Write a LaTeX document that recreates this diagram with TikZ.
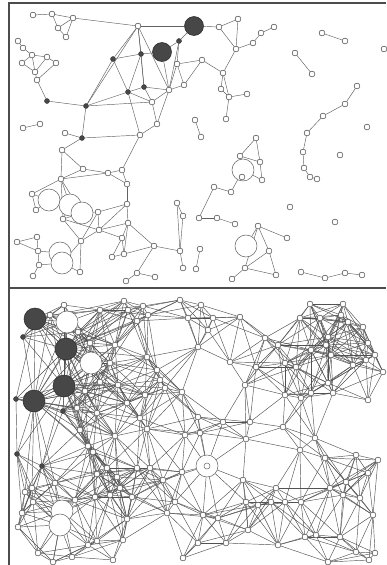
\documentclass[tikz,border=0pt]{standalone}
\usetikzlibrary{backgrounds}
\begin{document}
\begin{tikzpicture}[x=1pt,y=-1pt,
  edge/.style={draw=black!62,line width=0.45pt},
  bedge/.style={draw=black!68,line width=0.45pt},
  to/.style={circle,draw=black!70,fill=white,line width=0.55pt,inner sep=0pt,minimum size=5.8pt},
  tk/.style={circle,draw=black!80,fill=black!72,line width=0.4pt,inner sep=0pt,minimum size=5pt},
  tD/.style={circle,draw=black!85,fill=black!72,line width=0.5pt,inner sep=0pt,minimum size=19pt},
  tW/.style={circle,draw=black!60,fill=white,line width=0.55pt,inner sep=0pt,minimum size=22pt},
  bo/.style={to},
  bk/.style={tk},
  bd/.style={tD,minimum size=22pt},
  bW/.style={tW},
  bC/.style={tW,path picture={\draw[black!60,line width=0.5pt] (path picture bounding box.center) circle (3pt);}},
  frame/.style={draw=black!70,line width=1.6pt}]
\useasboundingbox (0,0) rectangle (386,565);
\begin{pgfonlayer}{background}
\fill[white] (0,0) rectangle (386,565);
\end{pgfonlayer}
\draw[frame] (9,565) -- (9,3) -- (386,3);
\draw[frame] (9,288) -- (386,288);

% ---------------- top panel ----------------
\foreach \n/\x/\y/\k in {
t1/33/15/o, t2/52/14/o, t3/73/18/o, t4/58/28/o, t5/66/37/o, t6/138/26/o,
t7/194/26/D, t8/162/52/D, t9/179/41/k, t10/141/54/k, t11/113/59/k, t12/144/87/k,
t13/128/92/k, t14/86/106/k, t15/47/101/k, t16/82/138/k, t17/169/90/o, t18/184/85/o,
t19/177/64/o, t20/152/102/o, t21/157/124/o, t22/140/135/o, t23/65/133/o, t24/40/124/o,
t25/23/128/o, t26/18/41/o, t27/23/48/o, t28/32/55/o, t29/22/63/o, t30/47/57/o,
t31/56/63/o, t32/35/72/o, t33/37/80/o, t35/219/27/o, t36/238/19/o, t37/236/49/o,
t38/253/43/o, t39/261/33/o, t40/274/27/o, t41/202/60/o, t42/223/73/o, t43/221/89/o,
t44/229/97/o, t45/247/94/o, t46/226/119/o, t47/322/33/o, t48/345/41/o, t49/384/49/o,
t50/295/53/o, t51/312/74/o, t52/357/86/o, t53/345/104/o, t54/323/116/o, t55/307/133/o,
t56/303/152/o, t57/304/168/o, t58/310/177/o, t59/317/179/o, t60/367/127/o, t61/340/155/o,
t62/290/207/o, t63/335/222/o, t64/256/138/o, t65/195/120/o, t66/201/137/o, t67/240/156/o,
t68/260/162/o, t69/262/180/o, t70/243/170/W, t71/242/177/o, t72/214/187/o, t73/231/192/o,
t74/199/218/o, t75/217/218/o, t76/235/224/o, t77/258/226/o, t78/287/238/o, t79/246/246/W,
t80/269/251/o, t81/245/268/o, t82/276/275/o, t83/232/279/o, t84/200/249/o, t85/196/269/o,
t86/301/272/o, t87/325/278/o, t88/345/273/o, t89/362/275/o, t90/62/150/o, t91/83/169/o,
t92/108/173/o, t93/122/170/o, t94/127/184/o, t95/61/179/o, t96/32/194/o, t97/36/210/o,
t98/49/200/W, t99/70/205/W, t100/82/213/W, t101/63/219/o, t102/98/212/o, t103/127/204/o,
t104/128/223/o, t105/99/230/o, t106/81/241/o, t107/122/238/o, t108/112/257/o, t109/124/254/o,
t110/154/246/o, t111/180/251/o, t112/177/203/o, t113/183/216/o, t114/183/268/o, t115/17/242/o,
t116/37/237/o, t117/38/251/o, t118/60/253/W, t119/62/263/W, t120/39/265/o, t121/33/276/o,
t122/80/272/o, t123/137/273/o, t124/155/277/o, t125/126/281/o}
  {\node[t\k] (\n) at (\x,\y) {};}

\begin{pgfonlayer}{background}
\foreach \a/\b in {
t1/t2, t2/t3, t2/t4, t3/t4, t4/t5, t3/t5, t3/t6,
t6/t7, t6/t11, t6/t10, t6/t14, t6/t17, t6/t12,
t7/t9, t7/t35, t9/t8, t9/t19, t9/t17, t8/t10, t8/t17,
t10/t11, t10/t12, t10/t13, t11/t14, t11/t13, t12/t13, t12/t17, t12/t20,
t13/t14, t13/t20, t13/t22, t14/t15, t14/t20, t14/t16, t15/t33,
t17/t18, t17/t19, t17/t20, t17/t21, t18/t19, t19/t41, t18/t41, t20/t21,
t21/t22, t22/t16, t16/t23, t24/t25,
t26/t27, t27/t28, t28/t29, t28/t30, t30/t31, t29/t32, t28/t32, t30/t32, t31/t33, t32/t33,
t35/t36, t35/t37, t36/t37, t37/t38, t38/t39, t39/t40, t37/t42, t41/t42, t42/t43,
t42/t44, t43/t44, t44/t45, t44/t46,
t47/t48, t50/t51, t52/t53, t53/t54, t54/t55, t55/t56, t56/t57, t57/t58, t58/t59,
t64/t67, t64/t68, t67/t68, t67/t70, t68/t69, t69/t70, t73/t70, t72/t73, t72/t74,
t74/t75, t75/t76,
t77/t78, t77/t79, t77/t80, t77/t81, t80/t81, t80/t82, t81/t82, t81/t83, t84/t85,
t86/t87, t87/t88, t88/t89, t65/t66,
t90/t16, t90/t91, t90/t95, t91/t92, t91/t95, t92/t93, t93/t94, t92/t94, t94/t103,
t93/t22, t95/t96, t95/t99, t95/t100, t95/t101, t95/t92, t96/t97, t96/t98, t97/t98,
t101/t99, t101/t100, t101/t106, t101/t105, t102/t100, t102/t103, t102/t105, t102/t106,
t103/t104, t103/t105, t104/t105, t104/t107, t104/t110, t104/t109, t105/t106, t105/t107,
t106/t122, t107/t108, t107/t109, t108/t109, t109/t110, t110/t111, t110/t123,
t111/t112, t112/t113, t113/t111, t111/t114, t115/t116, t115/t117, t116/t117, t117/t118,
t117/t120, t120/t121, t120/t119, t119/t122, t123/t124, t123/t125, t106/t119}
  {\draw[edge] (\a) -- (\b);}
\end{pgfonlayer}

% ---------------- bottom panel ----------------
\def\blist{
35/319/d, 66/349/d, 64/386/d, 34/401/d,
23/337/k, 16/399/k, 63/411/k, 17/454/k, 42/466/k,
67/322/W, 91/363/W, 62/511/W, 60/525/W, 207/466/C,
50/315/o, 64/305/o, 100/310/o, 124/301/o, 128/310/o, 143/306/o, 148/315/o, 137/321/o,
180/300/o, 188/318/o, 201/305/o, 213/318/o, 240/317/o, 208/330/o,
310/304/o, 343/304/o, 300/318/o, 320/318/o, 341/315/o, 348/322/o, 363/327/o,
115/345/o, 90/343/o, 78/332/o, 110/363/o, 100/382/o, 85/391/o, 118/385/o, 147/357/o,
157/370/o, 160/380/o, 165/388/o, 127/403/o, 140/418/o, 77/408/o, 97/413/o, 182/392/o, 145/395/o,
198/347/o, 230/362/o, 265/338/o, 278/345/o, 256/367/o, 245/385/o, 285/363/o, 296/367/o,
328/337/o, 311/350/o, 326/345/o, 331/355/o, 368/343/o, 375/355/o, 383/372/o, 366/360/o,
353/365/o, 328/383/o, 311/393/o, 301/398/o, 285/395/o, 333/393/o, 368/400/o, 198/417/o,
223/422/o, 250/422/o,
25/492/o, 32/488/o, 33/502/o, 22/513/o, 18/527/o, 38/553/o, 53/562/o, 72/557/o, 97/541/o,
88/545/o, 123/540/o, 127/519/o, 132/497/o, 110/495/o, 95/497/o, 75/500/o, 55/483/o, 97/474/o,
107/468/o, 117/477/o, 120/488/o, 137/468/o, 150/468/o, 163/480/o, 175/502/o, 167/513/o,
182/472/o, 80/430/o, 115/436/o, 88/446/o, 93/452/o, 147/429/o, 185/435/o,
200/433/o, 246/439/o, 283/427/o, 300/450/o, 315/438/o, 325/458/o, 356/455/o, 378/460/o,
368/473/o, 346/482/o, 343/495/o, 330/488/o, 360/498/o, 373/515/o, 243/480/o, 276/488/o,
246/502/o, 258/505/o, 271/502/o, 285/502/o, 301/502/o, 203/515/o, 218/518/o, 248/530/o,
226/543/o, 278/545/o, 316/535/o, 305/537/o, 340/537/o, 356/552/o, 375/553/o, 198/543/o,
113/560/o, 328/562/o, 369/560/o, 183/558/o}
\def\radd{92}\def\radk{62}\def\rado{56}\def\radW{56}\def\radC{56}

\foreach \x/\y/\k [count=\i] in \blist {\node[b\k] (b\i) at (\x,\y) {};}

\begin{pgfonlayer}{background}
\foreach \xa/\ya/\ka [count=\i] in \blist {
  \foreach \xb/\yb/\kb [count=\j] in \blist {
    \ifnum\j>\i\relax
     \ifdim\dimexpr\yb pt-\ya pt\relax<93pt
      \ifdim\dimexpr\ya pt-\yb pt\relax<93pt
        \pgfmathsetmacro\dd{veclen(\xb-\xa,\yb-\ya)}
        \pgfmathsetmacro\rr{max(\csname rad\ka\endcsname,\csname rad\kb\endcsname)}
        \ifdim\dd pt<\rr pt\relax
          \draw[bedge] (b\i) -- (b\j);
        \fi
      \fi
     \fi
    \fi
  }
}
\end{pgfonlayer}
\end{tikzpicture}
\end{document}
